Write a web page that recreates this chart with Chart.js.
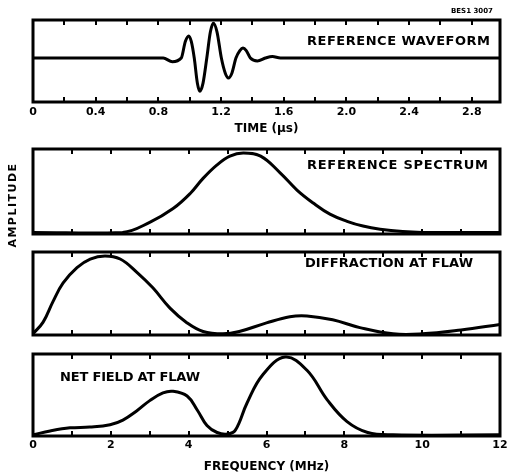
<!DOCTYPE html>
<html>
<head>
<meta charset="utf-8">
<script src="https://cdn.jsdelivr.net/npm/chart.js@4"></script>
<style>
  html, body { margin: 0; padding: 0; background: #fff; }
  #wrap { position: relative; width: 507px; height: 474px; overflow: hidden; background: #fff; }
  canvas { position: absolute; left: 0; }
  .ylab { position: absolute; left: -47px; top: 198px; width: 120px; height: 14px; line-height: 14px;
          text-align: center; transform: rotate(-90deg); font: bold 11px "DejaVu Sans", sans-serif;
          letter-spacing: 1.5px; color: #000; }
  .figid { position: absolute; left: 451px; top: 7px; font: bold 7px "DejaVu Sans", sans-serif; color: #000; }
</style>
</head>
<body>
<div id="wrap">
  <canvas id="c1" width="507" height="140" style="top:0px"></canvas>
  <canvas id="c2" width="507" height="100" style="top:140px"></canvas>
  <canvas id="c3" width="507" height="105" style="top:240px"></canvas>
  <canvas id="c4" width="507" height="129" style="top:345px"></canvas>
  <div class="ylab">AMPLITUDE</div>
  <div class="figid">BES1 3007</div>
</div>
<script>
// --- datos -----------------------------------------------------------------
const timeTickLabels = ['0', '0.4', '0.8', '1.2', '1.6', '2.0', '2.4', '2.8'];
const freqTickLabels = ['0', '2', '4', '6', '8', '10', '12'];

// forma de onda de referencia (tiempo en us, amplitud relativa)
const waveT = [0, 0.831, 0.889, 0.946, 0.972, 0.994, 1.010, 1.029, 1.049, 1.065, 1.085, 1.109, 1.132, 1.151, 1.174,
               1.202, 1.227, 1.247, 1.269, 1.295, 1.32, 1.34, 1.361, 1.387, 1.432, 1.483, 1.528, 1.579, 2.98];
const waveA = [0, 0, -0.1, 0, 0.45, 0.6, 0.45, 0, -0.68, -0.9, -0.68, 0, 0.71, 0.94, 0.71,
               0, -0.41, -0.54, -0.41, 0, 0.2, 0.27, 0.2, 0, -0.08, 0, 0.04, 0, 0];

// espectro de referencia (MHz)
const specF = [0, 2.3, 3.01, 3.6, 4.04, 4.37, 4.73, 5.06, 5.4, 5.85, 6.35, 6.79, 7.2, 7.63, 8.07, 8.48, 8.92, 9.5, 10.0, 12];
const specA = [0, 0, 0.13, 0.3, 0.49, 0.68, 0.85, 0.96, 1.0, 0.96, 0.75, 0.53, 0.37, 0.23, 0.14, 0.08, 0.04, 0.01, 0, 0];

// difraccion en el defecto
const diffF = [0, 0.26, 0.51, 0.77, 1.13, 1.47, 1.85, 2.24, 2.67, 3.08, 3.52, 3.96, 4.37, 4.88, 5.3, 6.0, 6.6, 7.04, 7.7, 8.4, 9.25, 10, 11, 12];
const diffA = [0, 0.15, 0.41, 0.65, 0.85, 0.96, 1.0, 0.96, 0.79, 0.59, 0.33, 0.14, 0.03, 0, 0.03, 0.14, 0.22, 0.23, 0.18, 0.08, 0, 0, 0.05, 0.12];

// campo neto en el defecto
const netF = [0, 0.44, 0.95, 1.46, 1.98, 2.31, 2.67, 3.0, 3.34, 3.6, 3.96, 4.22, 4.47, 4.73, 5.0, 5.2, 5.5, 5.9, 6.48, 7.04, 7.56, 8.07, 8.6, 9.25, 12];
const netA = [0, 0.05, 0.09, 0.1, 0.13, 0.19, 0.31, 0.44, 0.54, 0.56, 0.5, 0.32, 0.12, 0.03, 0.01, 0.06, 0.41, 0.77, 1.0, 0.83, 0.45, 0.17, 0.03, 0, 0];

const FONT = '"DejaVu Sans", sans-serif';

// --- plugin: marco, marcas interiores y rotulo del panel -----------------------
const panelPlugin = {
  id: 'panel',
  afterDatasetsDraw(chart, args, opts) {
    const { ctx, chartArea: a, scales: { x } } = chart;
    ctx.save();
    ctx.strokeStyle = '#000';
    ctx.lineWidth = 2;
    for (let v = x.min; v <= x.max + 1e-9; v += opts.step) {
      const px = Math.round(x.getPixelForValue(v));
      ctx.beginPath();
      ctx.moveTo(px, a.top); ctx.lineTo(px, a.top + 5);
      ctx.moveTo(px, a.bottom); ctx.lineTo(px, a.bottom - 5);
      ctx.stroke();
    }
    ctx.lineWidth = 3;
    ctx.strokeRect(a.left, a.top, a.right - a.left, a.bottom - a.top);

    // rotulo
    const lab = opts.label;
    ctx.font = 'bold 13px ' + FONT;
    ctx.fillStyle = '#000';
    ctx.textBaseline = 'middle';
    const w0 = ctx.measureText(lab.text).width;
    ctx.letterSpacing = ((lab.w - w0) / (lab.text.length - 1)) + 'px';
    ctx.fillText(lab.text, lab.x, lab.y);
    ctx.restore();
  }
};

function pts(xs, ys) { return xs.map((v, i) => ({ x: v, y: ys[i] })); }

function makeChart(id, xs, ys, o) {
  const xScale = {
    type: 'linear', min: o.xmin, max: o.xmax,
    display: !!o.axis,
    grid: { display: false, drawTicks: false },
    border: { display: false }
  };
  if (o.axis) {
    xScale.ticks = {
      stepSize: o.axis.stepSize, includeBounds: false, autoSkip: false, maxRotation: 0,
      padding: o.axis.pad, color: '#000', font: { family: FONT, size: 11, weight: 'bold' },
      callback: (val, i) => o.axis.labels[i]
    };
    xScale.title = {
      display: true, text: o.axis.title, color: '#000',
      font: { family: FONT, size: 12, weight: 'bold' },
      padding: { top: 0, bottom: o.axis.titlePad }
    };
    xScale.afterFit = (s) => { s.height = o.axis.height; s.paddingLeft = 0; s.paddingRight = 0; };
  }
  const ds = { data: pts(xs, ys), borderColor: '#000', borderWidth: 3, pointRadius: 0, fill: false };
  if (o.monotone) ds.cubicInterpolationMode = 'monotone'; else ds.tension = 0.4;
  return new Chart(document.getElementById(id), {
    type: 'line',
    data: { datasets: [ds] },
    options: {
      responsive: false, animation: false, events: [],
      layout: { padding: o.pad },
      plugins: {
        legend: { display: false }, tooltip: { enabled: false },
        panel: { step: o.step, label: o.label }
      },
      scales: {
        x: xScale,
        y: { display: false, min: o.ymin, max: o.ymax }
      }
    },
    plugins: [panelPlugin]
  });
}

makeChart('c1', waveT, waveA, {
  xmin: 0, xmax: 2.98, ymin: -1.19, ymax: 1.03, step: 0.2, monotone: true,
  pad: { left: 33, right: 7, top: 20, bottom: 0 },
  axis: { stepSize: 0.4, labels: timeTickLabels, pad: 4, title: 'TIME (\u00b5s)', titlePad: 4, height: 38 },
  label: { text: 'REFERENCE WAVEFORM', x: 307, y: 42, w: 183 }
});

makeChart('c2', specF, specA, {
  xmin: 0, xmax: 12, ymin: -0.02, ymax: 1.05, step: 1,
  pad: { left: 33, right: 7, top: 9, bottom: 6 },
  label: { text: 'REFERENCE SPECTRUM', x: 307, y: 26, w: 181 }
});

makeChart('c3', diffF, diffA, {
  xmin: 0, xmax: 12, ymin: -0.015, ymax: 1.05, step: 1,
  pad: { left: 33, right: 7, top: 12, bottom: 10 },
  label: { text: 'DIFFRACTION AT FLAW', x: 305, y: 24, w: 168 }
});

makeChart('c4', netF, netA, {
  xmin: 0, xmax: 12, ymin: -0.015, ymax: 1.04, step: 1,
  pad: { left: 33, right: 7, top: 9, bottom: 0 },
  axis: { stepSize: 2, labels: freqTickLabels, pad: 3, title: 'FREQUENCY (MHz)', titlePad: 0, height: 38 },
  label: { text: 'NET FIELD AT FLAW', x: 60, y: 33, w: 140 }
});
</script>
</body>
</html>
